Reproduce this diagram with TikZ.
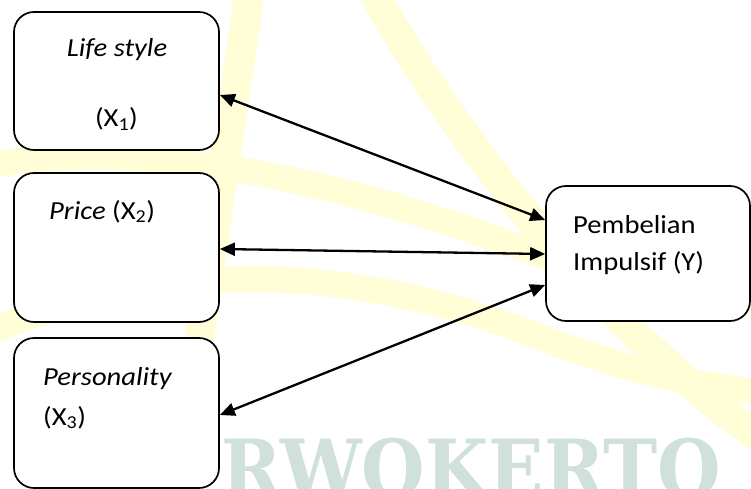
\documentclass[tikz,border=0pt]{standalone}
\usepackage{fontspec}
\setmainfont{Carlito}[FakeStretch=1.1]
\newfontfamily\wmfont{DejaVu Serif}[FakeStretch=0.91]
\usetikzlibrary{arrows.meta}
\definecolor{wmyellow}{RGB}{255,254,214}
\definecolor{wmgray}{RGB}{208,224,220}
\tikzset{
  box/.style={draw, line width=1.7pt, rounded corners=20pt, fill=white, inner sep=0pt, minimum width=205pt},
  lbl/.style={inner sep=0pt, font=\fontsize{26}{30}\selectfont},
  link/.style={line width=2.3pt, {Triangle[length=15pt,width=13pt]}-{Triangle[length=15pt,width=13pt]}},
  band/.style={line width=30pt, wmyellow, line cap=round},
  wmtext/.style={inner sep=0pt, text=wmgray, font=\wmfont\bfseries\fontsize{80}{84}\selectfont},
}
\begin{document}
\begin{tikzpicture}[x=1pt,y=-1pt]
\useasboundingbox (0,0) rectangle (751,489);
\fill[white] (0,0) rectangle (751,489);
\begin{scope}
  \clip (0,0) rectangle (751,489);
  \draw[band] (250,-10) -- (200,330);
  \draw[band] (372,-10) .. controls (450,130) and (600,330) .. (770,445);
  \draw[band, line width=26pt] (-10,165) .. controls (150,140) and (330,175) .. (560,262) .. controls (640,290) .. (770,300);
  \draw[band, line width=26pt] (-10,332) .. controls (180,250) and (380,270) .. (560,345) .. controls (650,375) .. (770,395);
  \node[wmtext, anchor=base west] (wm) at (221,497) {RWOKERTO};
\end{scope}

\node[box, minimum height=138pt] (b1) at (116.5,81) {};
\node[box, minimum height=149pt] (b2) at (116.5,247.5) {};
\node[box, minimum height=150pt] (b3) at (116.5,413) {};
\node[box, minimum width=204pt, minimum height=135pt] (bY) at (648,253.5) {};

\node[lbl, anchor=base] (t1a) at (117,57) {\itshape Life style};
\node[lbl, anchor=base] (t1b) at (116.5,127) {(X\textsubscript{1})};
\node[lbl, anchor=base west] (t2) at (49,219) {\textit{Price} (X\textsubscript{2})};
\node[lbl, anchor=base west] (t3a) at (43,385) {\itshape Personality};
\node[lbl, anchor=base west] (t3b) at (43,425) {(X\textsubscript{3})};
\node[lbl, anchor=base west] (tYa) at (573,233) {Pembelian};
\node[lbl, anchor=base west] (tYb) at (573,270) {Impulsif (Y)};

\draw[link] ([yshift=-14pt]b1.east) -- ([yshift=33.5pt]bY.west);
\draw[link] ([yshift=-1.5pt]b2.east) -- ([yshift=-0.5pt]bY.west);
\draw[link] ([yshift=-2pt]b3.east) -- ([yshift=-31.5pt]bY.west);
\end{tikzpicture}
\end{document}
